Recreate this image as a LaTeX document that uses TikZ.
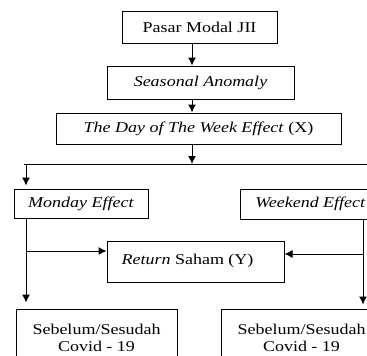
\documentclass[tikz,border=0pt]{standalone}
\usepackage{fontspec}
\setmainfont{Liberation Serif}[FakeStretch=1.2]
\usetikzlibrary{arrows.meta}
\begin{document}
\begin{tikzpicture}[x=1pt,y=-1pt,
  box/.style={draw, line width=1pt, inner sep=0pt, align=center,
    font=\fontsize{15}{16.5}\selectfont},
  arr/.style={line width=1pt, -{Latex[length=8pt,width=8pt]}},
  ln/.style={line width=1pt}]
\useasboundingbox (0,0) rectangle (367,356);
\clip (0,0) rectangle (367,356);
\node[box, minimum width=155, minimum height=32] (pasar) at (199.5,27) {Pasar Modal JII};
\node[box, minimum width=187, minimum height=33] (season) at (200.5,82.5) {\textit{Seasonal Anomaly}};
\node[box, minimum width=285, minimum height=31] (day) at (198.5,128.5) {\textit{The Day of The Week Effect} (X)};
\node[box, minimum width=134, minimum height=29] (monday) at (81,203.5) {\textit{Monday Effect}};
\node[box, minimum width=141, minimum height=30] (weekend) at (310.5,204) {\textit{Weekend Effect}};
\node[box, minimum width=177, minimum height=41] (ret) at (195.5,261.5) {\raisebox{4.5pt}{\textit{Return} Saham (Y)}\hspace*{16pt}};
\node[box, minimum width=161, minimum height=61] (botl) at (96.5,339.5) {\raisebox{6.5pt}{\begin{tabular}{@{}c@{}}Sebelum/Sesudah\\Covid - 19\end{tabular}}};
\node[box, minimum width=161, minimum height=61] (botr) at (301.5,339.5) {\raisebox{6.5pt}{\begin{tabular}{@{}c@{}}Sebelum/Sesudah\\Covid - 19\end{tabular}}};
\coordinate (ax) at (192,0);
\coordinate (hl) at (26,164);
\coordinate (hr) at (367,164);
\coordinate (ml) at (26,0);
\coordinate (wr) at (363,0);
\coordinate (mb) at (26,251);
\coordinate (wb) at (363,254);
\draw[arr] (pasar.south -| ax) -- (season.north -| ax);
\draw[arr] (season.south -| ax) -- (day.north -| ax);
\draw[ln] ([xshift=-2pt]hl) -- (hr);
\draw[arr] (day.south -| ax) -- (ax |- hl);
\draw[arr, shorten >=3pt] (hl) -- (hl |- monday.north);
\draw[arr, shorten >=6pt] (monday.south -| ml) -- (ml |- botl.north);
\draw[arr] (mb) -- (ret.west |- mb);
\draw[arr, shorten >=4pt] (weekend.south -| wr) -- (wr |- botr.north);
\draw[arr] (wb) -- (ret.east |- wb);
\end{tikzpicture}
\end{document}
